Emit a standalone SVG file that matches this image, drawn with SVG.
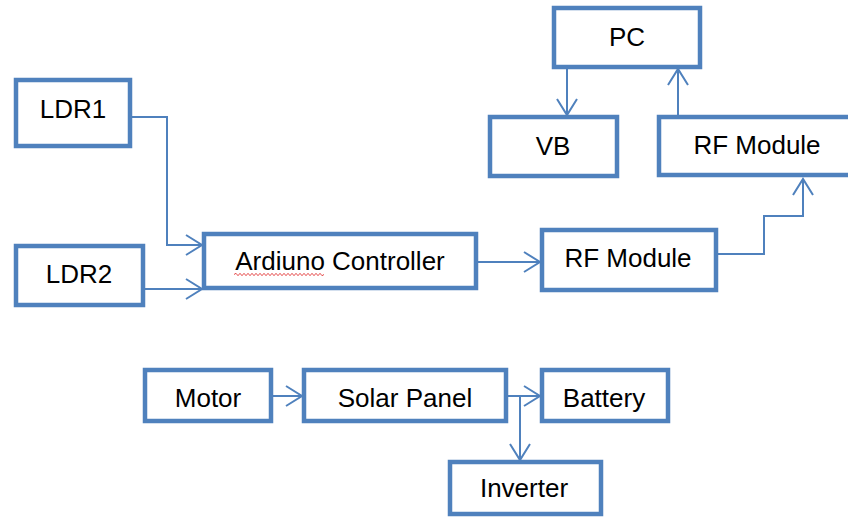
<svg xmlns="http://www.w3.org/2000/svg" width="848" height="517" viewBox="0 0 848 517">
  <style>
    .box { fill: #FFFFFF; stroke: #4F81BD; stroke-width: 4.5; }
    .lbl { font-family: "Liberation Sans", Arial, sans-serif; font-size: 26px; fill: #000000; text-anchor: middle; }
    .conn { fill: none; stroke: #4F81BD; stroke-width: 2; marker-end: url(#arrow); }
  </style>
  <defs>
    <marker id="arrow" markerUnits="userSpaceOnUse" viewBox="-18 -12 20 24" markerWidth="20" markerHeight="24" refX="0" refY="0" orient="auto" overflow="visible">
      <path d="M-16,-10 L0,0 L-16,10" fill="none" stroke="#4F81BD" stroke-width="2"/>
    </marker>
  </defs>
  <rect width="848" height="517" fill="#FFFFFF"/>

  <g id="connectors">
    <path class="conn" d="M132 117 H167 V245 H202"/>
    <path class="conn" d="M145 289 H202"/>
    <path class="conn" d="M478 262 H540"/>
    <path class="conn" d="M718 254 H764 V216 H803 V179"/>
    <path class="conn" d="M567 69 V115"/>
    <path class="conn" d="M678 115 V69"/>
    <path class="conn" d="M273 396 H302"/>
    <path class="conn" d="M508 396 H540"/>
    <path class="conn" d="M508 396 H520 V460"/>
  </g>

  <g id="ldr1">
    <rect class="box" x="16" y="80" width="114" height="66"/>
    <text class="lbl" x="73" y="118">LDR1</text>
  </g>
  <g id="ldr2">
    <rect class="box" x="16" y="246" width="127" height="59"/>
    <text class="lbl" x="79" y="283">LDR2</text>
  </g>
  <g id="arduino">
    <rect class="box" x="204" y="234" width="272" height="54"/>
    <text class="lbl" x="340" y="270">Ardiuno Controller</text>
    <polyline points="234,274.5 236,273.3 238,275.7 240,273.3 242,275.7 244,273.3 246,275.7 248,273.3 250,275.7 252,273.3 254,275.7 256,273.3 258,275.7 260,273.3 262,275.7 264,273.3 266,275.7 268,273.3 270,275.7 272,273.3 274,275.7 276,273.3 278,275.7 280,273.3 282,275.7 284,273.3 286,275.7 288,273.3 290,275.7 292,273.3 294,275.7 296,273.3 298,275.7 300,273.3 302,275.7 304,273.3 306,275.7 308,273.3 310,275.7 312,273.3 314,275.7 316,273.3 318,275.7 320,273.3 322,275.7 324,274.5" fill="none" stroke="#E23A3A" stroke-width="0.9"/>
  </g>
  <g id="pc">
    <rect class="box" x="554" y="8" width="146" height="59"/>
    <text class="lbl" x="627" y="46">PC</text>
  </g>
  <g id="vb">
    <rect class="box" x="490" y="117" width="127" height="59"/>
    <text class="lbl" x="553" y="155">VB</text>
  </g>
  <g id="rf-module-top">
    <rect class="box" x="659" y="117" width="196" height="58"/>
    <text class="lbl" x="757" y="154">RF Module</text>
  </g>
  <g id="rf-module-bottom">
    <rect class="box" x="542" y="230" width="174" height="60"/>
    <text class="lbl" x="628" y="267">RF Module</text>
  </g>
  <g id="motor">
    <rect class="box" x="145" y="370" width="126" height="51"/>
    <text class="lbl" x="208" y="407">Motor</text>
  </g>
  <g id="solar-panel">
    <rect class="box" x="304" y="370" width="202" height="51"/>
    <text class="lbl" x="405" y="407">Solar Panel</text>
  </g>
  <g id="battery">
    <rect class="box" x="542" y="370" width="126" height="51"/>
    <text class="lbl" x="604" y="407">Battery</text>
  </g>
  <g id="inverter">
    <rect class="box" x="450" y="462" width="151" height="52"/>
    <text class="lbl" x="524" y="497">Inverter</text>
  </g>
</svg>
